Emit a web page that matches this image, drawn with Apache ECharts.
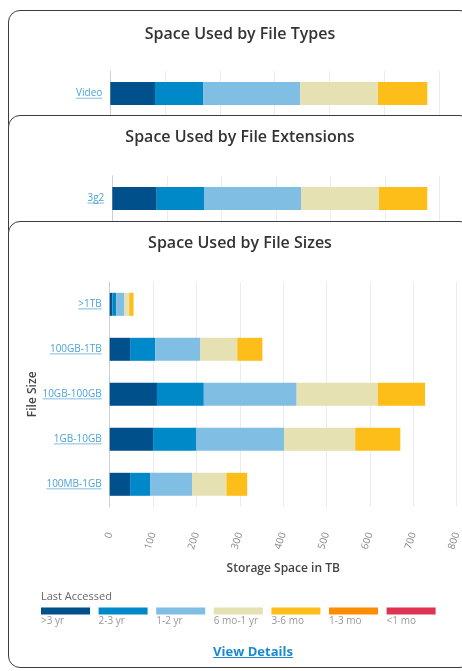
<!DOCTYPE html>
<html><head><meta charset="utf-8">
<script src="https://cdn.jsdelivr.net/npm/echarts@6/dist/echarts.min.js"></script>
<style>
html,body{margin:0;padding:0;width:462px;height:671px;overflow:hidden;background:#fff;font-family:"Open Sans",sans-serif;}
.card{position:absolute;left:8px;width:464px;box-sizing:border-box;border:1.5px solid #3c3c3c;border-radius:12px;background:#fff;}
.chart{position:absolute;left:-1.5px;top:-1.5px;width:464px;}
#vd{position:absolute;width:504px;text-align:center;font:700 13px "Open Sans";color:#1a8ad0;text-decoration:underline;}
</style></head>
<body>
<div class="card" id="c1" style="top:10px;height:300px;z-index:1"><div class="chart" id="ch1" style="height:106px"></div></div>
<div class="card" id="c2" style="top:115px;height:300px;z-index:2"><div class="chart" id="ch2" style="height:106px"></div></div>
<div class="card" id="c3" style="top:221px;height:447px;z-index:3"><div class="chart" id="ch3" style="height:447px"></div><div id="vd" style="left:-8px;top:420px">View Details</div></div>
<script>
// ---- data ----
const seriesNames = ['>3 yr', '2-3 yr', '1-2 yr', '6 mo-1 yr', '3-6 mo', '1-3 mo', '<1 mo'];
const seriesColors = ['#00508c', '#0089c9', '#80bee4', '#e6e1b3', '#fdbe1a', '#fc8c00', '#df3354'];

const typeCategories = ['Video'];
const typeValues = [[326], [351], [710], [567], [360], [0], [0]];

const extCategories = ['3g2'];
const extValues = [[326], [347], [712], [572], [355], [0], [0]];

const sizeCategories = ['>1TB', '100GB-1TB', '10GB-100GB', '1GB-10GB', '100MB-1GB'];
const sizeGt3yr   = [6, 47, 109, 100, 47];
const size2to3yr  = [9, 58, 108, 100, 47];
const size1to2yr  = [19, 104, 214, 202, 96];
const size6moTo1y = [11, 85, 187, 164, 79];
const size3to6mo  = [10, 58, 109, 104, 48];
const size1to3mo  = [0, 0, 0, 0, 0];
const sizeLt1mo   = [0, 0, 0, 0, 0];
const sizeValues = [sizeGt3yr, size2to3yr, size1to2yr, size6moTo1y, size3to6mo, size1to3mo, sizeLt1mo];

const sizeTicks = [0, 100, 200, 300, 400, 500, 600, 700, 800];

// ---- helpers ----
const FONT = '"Open Sans", sans-serif';
const linkColor = '#4ba3d9';
function underlineImg(color) {
  const c = document.createElement('canvas');
  c.width = 4; c.height = 13;
  const g = c.getContext('2d');
  g.fillStyle = color; g.fillRect(0, 12, 4, 1);
  return c;
}
const ulImg = underlineImg(linkColor);
const catLabel = {
  margin: 8,
  formatter: v => '{u|' + v + '}',
  rich: { u: { color: linkColor, fontSize: 10, fontFamily: FONT, lineHeight: 13, backgroundColor: { image: ulImg } } }
};
function makeSeries(values) {
  return seriesNames.map((n, i) => ({
    name: n, type: 'bar', stack: 'total', barWidth: 23,
    itemStyle: { color: seriesColors[i] },
    data: values[i], emphasis: { disabled: true }
  }));
}
function titleOf(text, top) {
  return { text, left: 'center', top, padding: 0,
    textStyle: { fontFamily: FONT, fontSize: 16, fontWeight: 600, color: '#333', lineHeight: 22 } };
}

// ---- chart 1 ----
echarts.init(document.getElementById('ch1')).setOption({
  animation: false,
  title: titleOf('Space Used by File Types', 13),
  grid: { left: 102.3, top: 61, width: 328.8, height: 47 },
  xAxis: { type: 'value', min: 0, max: 2400, interval: 400, axisLabel: { show: false },
    splitLine: { lineStyle: { color: '#ececec' } } },
  yAxis: { type: 'category', data: typeCategories, axisTick: { show: false },
    axisLine: { lineStyle: { color: '#cfcfcf' } }, axisLabel: catLabel },
  series: makeSeries(typeValues)
});

// ---- chart 2 ----
echarts.init(document.getElementById('ch2')).setOption({
  animation: false,
  title: titleOf('Space Used by File Extensions', 11),
  grid: { left: 104.3, top: 60.8, width: 327, height: 47 },
  xAxis: { type: 'value', min: 0, max: 2400, interval: 400, axisLabel: { show: false },
    splitLine: { lineStyle: { color: '#ececec' } } },
  yAxis: { type: 'category', data: extCategories, axisTick: { show: false },
    axisLine: { lineStyle: { color: '#cfcfcf' } }, axisLabel: catLabel },
  series: makeSeries(extValues)
});

// ---- chart 3 ----
echarts.init(document.getElementById('ch3')).setOption({
  animation: false,
  title: [
    titleOf('Space Used by File Sizes', 11),
    { text: 'Last Accessed', left: 33, top: 369, padding: 0,
      textStyle: { fontFamily: FONT, fontSize: 11, fontWeight: 'normal', color: '#666', lineHeight: 14 } }
  ],
  legend: {
    left: 33, top: 370, padding: 0, icon: 'rect', itemWidth: 49, itemHeight: 7, itemGap: 3.6,
    selectedMode: false, data: seriesNames,
    formatter: n => '\n' + n,
    textStyle: { fontFamily: FONT, fontSize: 10, color: '#999', lineHeight: 20, padding: [0, 0, 0, -54] }
  },
  grid: { left: 101.7, top: 60.8, width: 347, height: 225 },
  xAxis: { type: 'value', min: sizeTicks[0], max: sizeTicks[sizeTicks.length - 1], interval: 100,
    name: 'Storage Space in TB', nameLocation: 'middle', nameGap: 56,
    nameTextStyle: { fontFamily: FONT, fontSize: 12, fontWeight: 600, color: '#444' },
    axisLine: { show: false }, axisTick: { show: false },
    axisLabel: { rotate: 72, margin: 26, fontFamily: FONT, fontSize: 10, color: '#888' },
    splitLine: { lineStyle: { color: '#ececec' } } },
  yAxis: { type: 'category', inverse: true, data: sizeCategories, axisTick: { show: false },
    name: 'File Size', nameLocation: 'middle', nameGap: 71, nameMoveOverlap: false,
    nameTextStyle: { fontFamily: FONT, fontSize: 12, fontWeight: 600, color: '#444' },
    axisLine: { lineStyle: { color: '#cfcfcf' } }, axisLabel: catLabel },
  series: makeSeries(sizeValues)
});
</script>
</body></html>
